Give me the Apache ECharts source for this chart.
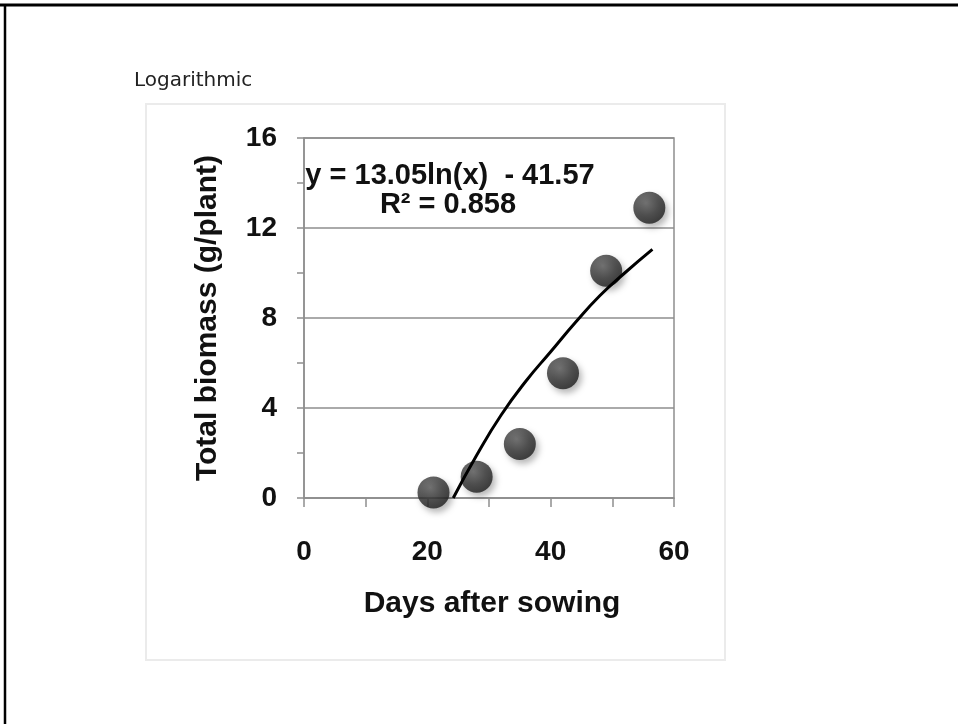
<!DOCTYPE html>
<html>
<head>
<meta charset="utf-8">
<script src="https://cdn.jsdelivr.net/npm/echarts@6/dist/echarts.min.js"></script>
<style>
  html, body { margin: 0; padding: 0; background: #fff; }
  #chart { width: 958px; height: 724px; }
</style>
</head>
<body>
<div id="chart"></div>
<script>
// Datos
const dias = [21, 28, 35, 42, 49, 56];
const biomasa = [0.25, 0.95, 2.4, 5.55, 10.1, 12.9];

// Linea de tendencia logaritmica
const tendenciaDias = [24.2, 28, 32, 36, 40, 44, 48, 52, 56.5];
const tendenciaBiomasa = [0, 1.9, 3.7, 5.2, 6.5, 7.8, 9.0, 10.0, 11.05];

const ecuacion = 'y = 13.05ln(x)  - 41.57';
const r2 = 'R² = 0.858';

const fuente = '"Liberation Sans", Arial, sans-serif';
const gris = '#8e8e8e';

const chart = echarts.init(document.getElementById('chart'));

const opciones = {
  animation: false,
  title: {
    text: 'Logarithmic',
    left: 129,
    top: 66,
    textStyle: { fontFamily: '"DejaVu Sans"', fontSize: 20, fontWeight: 'normal', color: '#222' }
  },
  graphic: [
    // marco exterior
    { type: 'line', shape: { x1: 0, y1: 5, x2: 958, y2: 5 }, style: { stroke: '#000', lineWidth: 3 } },
    { type: 'line', shape: { x1: 5, y1: 4, x2: 5, y2: 724 }, style: { stroke: '#000', lineWidth: 2.5 } },
    // panel del grafico
    { type: 'rect', shape: { x: 146, y: 104, width: 579, height: 556 }, style: { fill: 'none', stroke: '#ebebeb', lineWidth: 2 }, z: -1 },
    // ecuacion
    { type: 'text', x: 450, y: 176, style: { text: ecuacion, fontFamily: fuente, fontSize: 29, fontWeight: 'bold', fill: '#111', align: 'center', verticalAlign: 'middle' }, z: 10 },
    { type: 'text', x: 448, y: 205, style: { text: r2, fontFamily: fuente, fontSize: 29, fontWeight: 'bold', fill: '#111', align: 'center', verticalAlign: 'middle' }, z: 10 }
  ],
  grid: {
    left: 304, top: 138, right: 284, bottom: 226,
    show: true, borderColor: gris, borderWidth: 1.5
  },
  xAxis: {
    type: 'value',
    min: 0, max: 60, interval: 20,
    name: 'Days after sowing',
    nameLocation: 'middle',
    nameGap: 91,
    nameTextStyle: { fontFamily: fuente, fontSize: 30, fontWeight: 'bold', color: '#111', padding: [0, 0, 0, 6] },
    axisLine: { show: true, lineStyle: { color: gris, width: 1.5 } },
    axisTick: { show: true, inside: false, length: 9, lineStyle: { color: gris, width: 1.5 } },
    minorTick: { show: true, splitNumber: 2, length: 9, lineStyle: { color: gris, width: 1.5 } },
    splitLine: { show: false },
    axisLabel: { margin: 40, fontFamily: fuente, fontSize: 28, fontWeight: 'bold', color: '#111' }
  },
  yAxis: {
    type: 'value',
    min: 0, max: 16, interval: 4,
    name: 'Total biomass (g/plant)',
    nameLocation: 'middle',
    nameGap: 81,
    nameTextStyle: { fontFamily: fuente, fontSize: 30, fontWeight: 'bold', color: '#111' },
    axisLine: { show: true, lineStyle: { color: gris, width: 1.5 } },
    axisTick: { show: true, inside: false, length: 7, lineStyle: { color: gris, width: 1.5 } },
    minorTick: { show: true, splitNumber: 2, length: 7, lineStyle: { color: gris, width: 1.5 } },
    splitLine: { show: true, lineStyle: { color: gris, width: 1.5 } },
    axisLabel: { margin: 27, fontFamily: fuente, fontSize: 28, fontWeight: 'bold', color: '#111', padding: [8, 0, 0, 0] }
  },
  series: [
    {
      type: 'scatter',
      data: dias.map((d, i) => [d, biomasa[i]]),
      symbolSize: 32,
      itemStyle: {
        color: new echarts.graphic.RadialGradient(0.4, 0.35, 0.65, [
          { offset: 0, color: '#5e5e5e' },
          { offset: 0.6, color: '#333' },
          { offset: 1, color: '#1e1e1e' }
        ]),
        shadowBlur: 6,
        shadowOffsetX: 3,
        shadowOffsetY: 4,
        shadowColor: 'rgba(0,0,0,0.35)'
      },
      z: 2
    },
    {
      type: 'line',
      data: tendenciaDias.map((d, i) => [d, tendenciaBiomasa[i]]),
      smooth: true,
      showSymbol: false,
      lineStyle: { color: '#000', width: 3 },
      z: 3
    }
  ]
};

chart.setOption(opciones);
</script>
</body>
</html>
